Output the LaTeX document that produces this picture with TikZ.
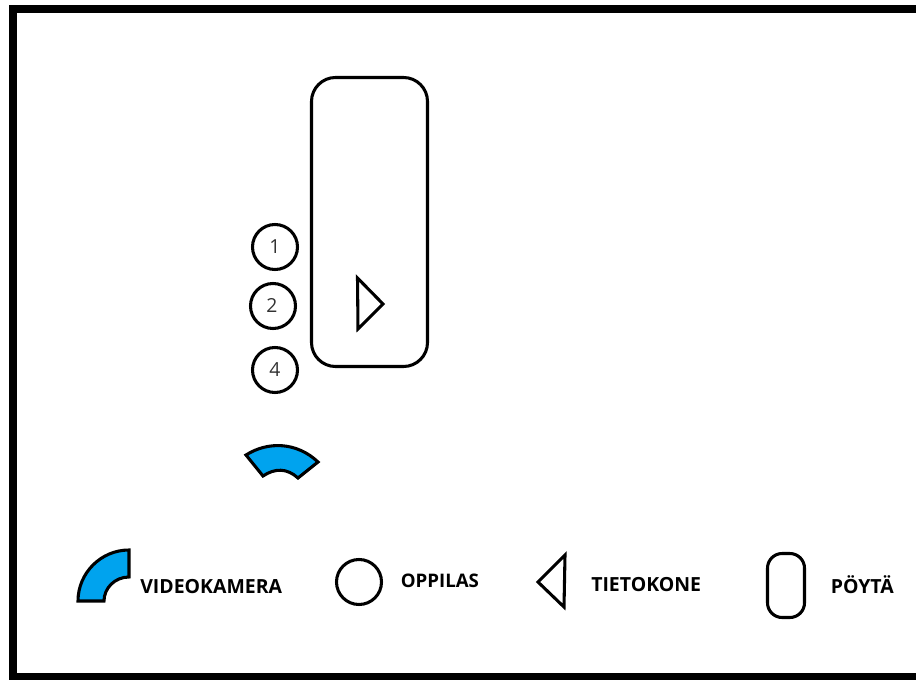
\documentclass[tikz,border=0pt]{standalone}
\usepackage{fontspec}
\setmainfont{Open Sans}
\definecolor{cam}{RGB}{0,163,238}
\definecolor{digit}{RGB}{50,50,50}
\tikzset{
  line/.style={draw=black,line width=2.3pt,line join=miter},
  seat/.style={line,circle,minimum size=45*0.75pt,inner sep=0pt,text=digit,font=\fontsize{14.5}{16}\selectfont},
  desk/.style={line,rectangle,rounded corners=18pt,inner sep=0pt},
  camera/.style={line,fill=cam},
  legendtext/.style={anchor=west,inner sep=0pt,font=\fontsize{14.6}{17}\selectfont\bfseries,text=black}
}
\begin{document}
\begin{tikzpicture}[x=0.75pt,y=-0.75pt]
\useasboundingbox (0,0) rectangle (916,680);
\fill[white] (0,0) rectangle (916,680);
\draw[black,line width=6pt,line join=miter] (917,9) -- (13,9) -- (13,677) -- (917,677);
\node[desk,minimum width=116*0.75pt,minimum height=289*0.75pt] (table) at (369.5,222) {};
\node[seat] (s1) at (275,247) {1};
\node[seat] (s2) at (273,306) {\kern-1.5pt 2};
\node[seat] (s4) at (275,370) {4};
\draw[line] (357.5,278) -- (383,304) -- (358,329) -- cycle;
\draw[camera] (246,455) .. controls (268,441) and (297,442) .. (318,462) -- (298,478) .. controls (287,468) and (275,468) .. (263,476) -- cycle;
\draw[camera] (78,601) .. controls (78,573) and (101,550) .. (129,550) -- (129,577) .. controls (115,577) and (104,588) .. (104,601) -- cycle;
\node[legendtext] (lv) at (140,587) {VIDEOKAMERA};
\node[seat] (ls) at (359,582) {};
\node[legendtext,font=\fontsize{14}{17}\selectfont\bfseries] (lo) at (400.5,581) {OPPILAS};
\draw[line] (565,555) -- (538,582) -- (564,607) -- cycle;
\node[legendtext] (lt) at (591,585) {TIETOKONE};
\node[line,rectangle,rounded corners=11pt,inner sep=0pt,minimum width=37*0.75pt,minimum height=64*0.75pt] (ld) at (786,585.5) {};
\node[legendtext] (lp) at (830.5,585) {PÖYTÄ};
\end{tikzpicture}
\end{document}
